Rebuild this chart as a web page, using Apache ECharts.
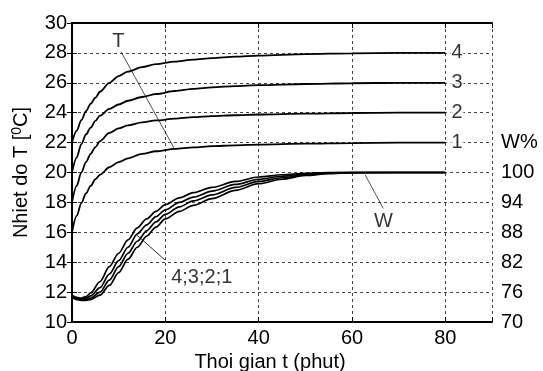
<!DOCTYPE html>
<html><head><meta charset="utf-8">
<script src="https://cdn.jsdelivr.net/npm/echarts@6/dist/echarts.min.js"></script>
<style>html,body{margin:0;padding:0;background:#fff}#c{width:543px;height:371px}</style>
</head><body><div id="c"></div>
<script>
// Temperature curves T (curve labels 1..4)
const tTime = [0,1,2,3,4,5,6,8,10,12,15,18,22,26,30,35,40,50,60,70,80];
const T4 = [22,22.8,23.5,24.1,24.6,25.0,25.4,26.0,26.45,26.75,27.05,27.25,27.42,27.55,27.65,27.75,27.82,27.92,27.97,28,28];
const T3 = [20,21.0,21.9,22.55,23.0,23.45,23.8,24.25,24.55,24.8,25.05,25.25,25.45,25.6,25.7,25.78,25.84,25.92,25.97,26,26];
const T2 = [18,19.1,20.0,20.7,21.25,21.7,22.1,22.65,22.95,23.15,23.35,23.48,23.6,23.7,23.77,23.83,23.88,23.94,23.98,24,24];
const T1 = [16,17.1,17.95,18.6,19.1,19.55,19.85,20.35,20.7,20.95,21.25,21.42,21.58,21.68,21.76,21.82,21.87,21.93,21.97,22,22];
// Moisture curves W (plotted on left scale; right axis W% = 70 + 3*(T-10))
const wTime = [0,1,2,3,4,6,8,10,12,14,16,18,20,23,26,30,35,40,45,50,55,60,70,80];
const W4 = [11.8,11.65,11.6,11.7,11.95,12.7,13.7,14.6,15.5,16.3,16.9,17.4,17.85,18.3,18.65,19.0,19.4,19.7,19.85,19.95,20,20,20,20];
const W3 = [11.75,11.6,11.55,11.6,11.75,12.3,13.2,14.1,15.0,15.9,16.5,17.05,17.5,18.0,18.35,18.75,19.2,19.55,19.75,19.9,19.97,20,20,20];
const W2 = [11.7,11.55,11.5,11.5,11.6,12.0,12.8,13.7,14.6,15.4,16.1,16.7,17.2,17.7,18.1,18.5,19.0,19.4,19.65,19.85,19.95,20,20,20];
const W1 = [11.65,11.5,11.45,11.45,11.5,11.8,12.45,13.3,14.2,15.0,15.75,16.35,16.9,17.4,17.8,18.25,18.8,19.25,19.55,19.8,19.92,19.98,20,20];
// tick labels
const xTicks = [0,20,40,60,80];
const rightLabels = {70:'70',76:'76',82:'82',88:'88',94:'94',100:'100',106:'W%'};
// curve end labels
const curveLabels = ['1','2','3','4'];
const curveLabelY = [22,24,26,28];
// annotations
const tLabelPos = [9.93, 28.75];
const tLeader = [[10.5,28.08],[22.1,21.5]];
const wLabelPos = [66.75, 16.71];
const wLeader = [[62.8,19.85],[66.7,17.6]];
const wgLabelPos = [27.8, 13.0];
const wgArrow = [[19.9,14.15],[13.9,15.82]];

const font = 'Liberation Sans';
const FS = 20;
const pair = (xs, ys) => xs.map((x,i)=>[x, ys[i]]);
const chart = echarts.init(document.getElementById('c'));
const curve = (xs, ys, w) => ({type:'line', xAxisIndex:0, yAxisIndex:0, data:pair(xs,ys), symbol:'none', smooth:0.3, smoothMonotone:'x', lineStyle:{color:'#000', width:w}, z:3, silent:true});
const txt = (pos, text, extra) => ({type:'scatter', xAxisIndex:0, yAxisIndex:0, data:[pos], symbolSize:0, silent:true, z:6,
  label:Object.assign({show:true, position:'inside', formatter:text, color:'#000', fontSize:FS, fontFamily:font}, extra||{})});
const dash = {type:[3,3], color:'#444', width:1};
const series = [
  curve(tTime,T1,1.8), curve(tTime,T2,1.8), curve(tTime,T3,1.8), curve(tTime,T4,1.8),
  curve(wTime,W1,1.7), curve(wTime,W2,1.7), curve(wTime,W3,1.7), curve(wTime,W4,1.7),
  {type:'line', data:tLeader, symbol:'none', lineStyle:{color:'#222', width:0.8}, z:4, silent:true},
  {type:'line', data:wLeader, symbol:'none', lineStyle:{color:'#222', width:0.8}, z:4, silent:true},
  {type:'line', data:[], silent:true, z:8, markLine:{silent:true, z:8, symbol:['none','arrow'], symbolSize:[0,12], label:{show:false},
    lineStyle:{color:'#111', width:0.9, type:'solid'}, data:[[{coord:wgArrow[0]},{coord:wgArrow[1]}]]}},
  txt(tLabelPos,'T'), txt(wLabelPos,'W'), txt(wgLabelPos,'4;3;2;1'),
  {type:'scatter', data:curveLabels.map((l,i)=>[82.5, curveLabelY[i], l]), symbolSize:0, silent:true, z:6,
    label:{show:true, position:'inside', formatter:p=>p.data[2], color:'#000', fontSize:FS, fontFamily:font, backgroundColor:'#fff', padding:[0,1]}}
];
chart.setOption({
  animation:false,
  backgroundColor:'#fff',
  grid:{left:72, right:51, top:23, bottom:49, outerBoundsMode:'none', containLabel:false},
  xAxis:[
    {type:'value', min:0, max:90, interval:20, position:'bottom',
     name:'Thoi gian t (phut)', nameLocation:'middle', nameGap:23,
     nameTextStyle:{color:'#000', fontSize:FS, fontFamily:font, padding:[0,24,0,0]},
     axisLine:{show:true, lineStyle:{color:'#000', width:2}}, axisTick:{show:true, inside:true, length:5, lineStyle:{color:'#000'}},
     axisLabel:{color:'#000', fontSize:FS, fontFamily:font, margin:6, formatter:v=>xTicks.includes(v)?String(v):''},
     splitLine:{show:true, lineStyle:dash}},
    {type:'value', min:0, max:90, interval:20, position:'top',
     axisLine:{show:true, onZero:false, lineStyle:{color:'#000', width:2}}, axisTick:{show:true, inside:true, length:5, lineStyle:{color:'#000'}},
     axisLabel:{show:false}, splitLine:{show:false}}
  ],
  yAxis:[
    {type:'value', min:10, max:30, interval:2, position:'left',
     name:'{a|Nhiet do T [}{s|0}{a|C]}', nameLocation:'middle', nameGap:40,
     nameTextStyle:{rich:{a:{color:'#000', fontSize:FS, fontFamily:font}, s:{color:'#000', fontSize:14, fontFamily:font, verticalAlign:'top', padding:[0,0,8,0]}}},
     axisLine:{show:true, lineStyle:{color:'#000', width:2}}, axisTick:{show:true, inside:true, length:5, lineStyle:{color:'#000'}},
     axisLabel:{color:'#000', fontSize:FS, fontFamily:font, margin:5},
     splitLine:{show:true, lineStyle:dash}},
    {type:'value', min:70, max:130, interval:6, position:'right',
     axisLine:{show:true, lineStyle:{color:'#000', width:2}}, axisTick:{show:true, inside:true, length:5, lineStyle:{color:'#000'}},
     axisLabel:{color:'#000', fontSize:FS, fontFamily:font, margin:9, formatter:v=>rightLabels[v]||''},
     splitLine:{show:false}}
  ],
  series: series
});
</script></body></html>
